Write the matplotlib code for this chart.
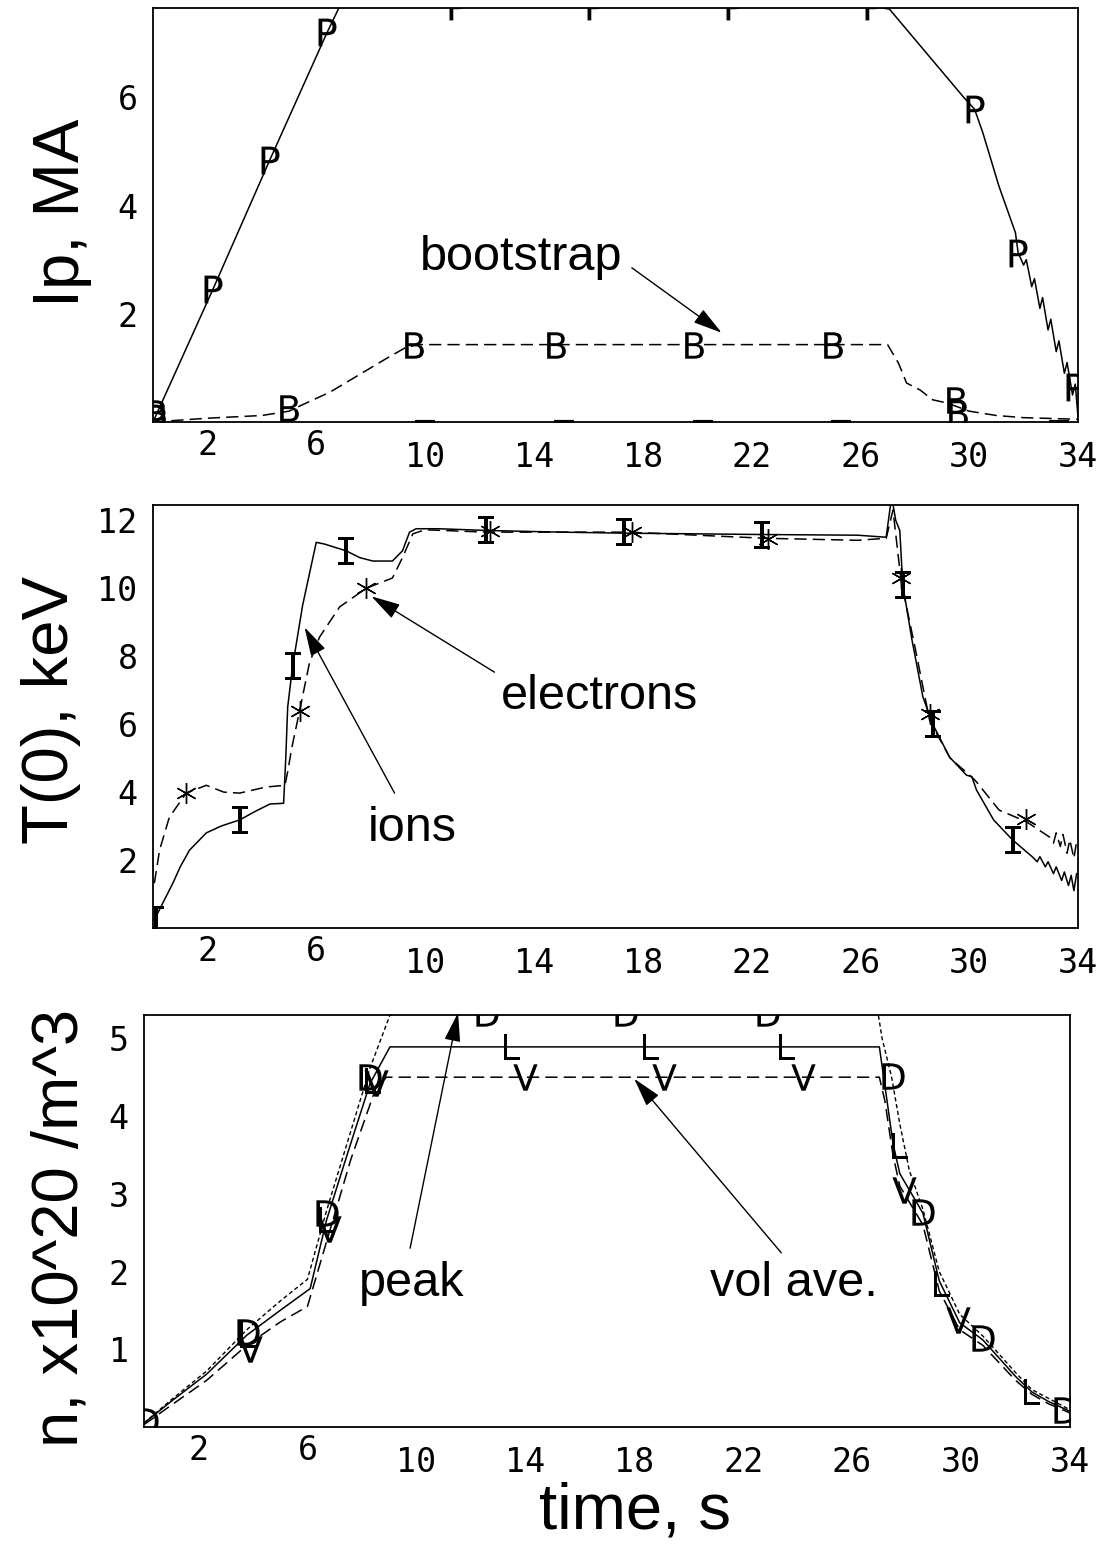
import matplotlib
matplotlib.use('Agg')
import matplotlib.pyplot as plt
import numpy as np

# ---- plasma current panel ----
ip_t = [0, 2.2, 4.3, 6.4, 6.85, 26.6, 27.07, 29.8, 30.2, 30.5, 31.1, 31.7, 31.8,
        32.0, 32.1, 32.3, 32.4, 32.6, 32.7, 32.9, 33.0, 33.2, 33.3, 33.5, 33.6, 33.8, 33.9, 34.0]
ip_v = [0, 2.45, 4.85, 7.2, 7.67, 7.67, 7.63, 6.0, 5.78, 5.35, 4.35, 3.5, 3.13,
        2.9, 3.0, 2.5, 2.65, 2.1, 2.3, 1.7, 1.9, 1.3, 1.5, 0.9, 1.1, 0.5, 0.7, 0.1]
ip_mark_t = [0.1, 2.2, 4.3, 6.4, 11.2, 16.3, 21.4, 26.5, 30.2, 31.8, 33.9]
ip_mark_v = [0.08, 2.45, 4.85, 7.2, 7.69, 7.69, 7.69, 7.69, 5.78, 3.13, 0.65]

bs_t = [0, 2.0, 4.0, 5.0, 5.5, 6.5, 7.5, 8.5, 9.3, 9.8, 27.0, 27.4, 27.7, 28.2,
        28.66, 29.2, 30.0, 31.0, 32.0, 34.0]
bs_v = [0, 0.07, 0.12, 0.2, 0.32, 0.55, 0.85, 1.15, 1.38, 1.43, 1.43, 1.09, 0.72, 0.59,
        0.41, 0.35, 0.2, 0.12, 0.08, 0.05]
bs_mark_t = [0.1, 5.0, 9.6, 14.8, 19.9, 25.0, 29.5, 29.6]
bs_mark_v = [0.17, 0.26, 1.42, 1.42, 1.42, 1.42, 0.41, 0.17]

aux_t = [10.0, 15.1, 20.2, 25.3, 33.3]
aux_v = [0.0, 0.0, 0.0, 0.0, 0.0]

# ---- central temperature panel ----
ti_t = [0.05, 0.4, 0.73, 1.0, 1.34, 1.96, 2.5, 3.18, 3.8, 4.3, 4.8, 4.88, 4.95, 5.13,
        5.5, 6.0, 6.3, 7.1, 7.6, 8.08, 8.8, 9.17, 9.43, 9.67, 10.5, 12.25, 15.0, 17.3,
        20.0, 22.4, 25.9, 26.95, 27.15, 27.3, 27.45, 27.56, 27.9, 28.3, 28.66, 29.28,
        29.9, 30.1, 30.27, 30.9, 31.6, 32.33, 32.5, 32.6, 32.8, 32.9, 33.1, 33.2, 33.4,
        33.5, 33.65, 33.75, 33.85, 33.95]
ti_v = [0.24, 0.8, 1.32, 1.8, 2.29, 2.8, 3.0, 3.18, 3.45, 3.65, 3.67, 5.0, 6.5, 7.7,
        9.5, 11.35, 11.3, 11.1, 10.9, 10.8, 10.8, 11.1, 11.65, 11.75, 11.75, 11.7, 11.65,
        11.62, 11.6, 11.58, 11.56, 11.5, 12.7, 12.0, 11.7, 10.1, 8.47, 6.8, 6.0, 5.03,
        4.5, 4.45, 4.06, 3.18, 2.59, 2.09, 1.95, 2.1, 1.8, 1.95, 1.6, 1.8, 1.4,
        1.65, 1.25, 1.55, 1.1, 1.6]
ti_mark_t = [0.1, 3.18, 5.13, 7.1, 12.25, 17.3, 22.4, 27.56, 28.66, 31.6]
ti_mark_v = [0.24, 3.18, 7.7, 11.1, 11.7, 11.66, 11.56, 10.1, 6.0, 2.59]

te_t = [0.05, 0.24, 0.6, 1.22, 1.96, 2.6, 3.18, 4.16, 4.85, 4.95, 5.1, 5.39, 5.75, 6.12,
        6.86, 7.84, 8.8, 9.17, 9.55, 10.0, 12.25, 17.5, 22.5, 25.9, 26.95, 27.2, 27.5,
        28.0, 28.55, 29.3, 30.1, 30.27, 31.1, 32.1, 32.95, 33.1, 33.2, 33.35, 33.45,
        33.6, 33.7, 33.85, 33.95]
te_v = [1.32, 2.29, 3.26, 3.97, 4.2, 4.0, 3.97, 4.15, 4.2, 4.6, 5.3, 6.4, 7.8, 8.56,
        9.45, 10.0, 10.3, 10.9, 11.6, 11.72, 11.65, 11.65, 11.47, 11.41, 11.47, 12.3, 10.2,
        8.3, 6.1, 5.0, 4.44, 4.3, 3.47, 3.13, 2.68, 2.5, 2.8, 2.4, 2.75,
        2.2, 2.6, 2.05, 2.55]
te_mark_t = [1.22, 5.39, 7.84, 12.4, 17.6, 22.6, 27.5, 28.55, 32.1]
te_mark_v = [3.97, 6.4, 10.0, 11.68, 11.65, 11.45, 10.3, 6.3, 3.2]

# ---- density panel ----
npk_t = [0, 1.0, 2.3, 3.77, 5.0, 6.0, 6.7, 7.5, 8.3, 9.03, 9.5, 26.95, 27.1, 27.45,
         27.75, 28.1, 28.6, 29.2, 29.95, 30.8, 32.0, 32.6, 33.2, 34.0]
npk_v = [0.05, 0.35, 0.72, 1.25, 1.62, 1.9, 2.78, 3.7, 4.62, 5.3, 5.33, 5.33, 5.0, 4.5,
         3.9, 3.3, 2.8, 2.0, 1.45, 1.17, 0.7, 0.48, 0.37, 0.22]
npk_mark_t = [0.1, 3.8, 6.7, 8.3, 12.6, 17.7, 22.9, 27.5, 28.6, 30.8, 33.8]
npk_mark_v = [0.08, 1.22, 2.75, 4.5, 5.33, 5.33, 5.33, 4.52, 2.76, 1.14, 0.22]

nl_t = [0, 1.0, 2.3, 3.77, 5.0, 6.1, 6.7, 7.5, 8.3, 9.03, 27.0, 27.2, 27.5, 27.75, 28.6,
        29.2, 29.95, 30.8, 32.0, 32.6, 33.2, 34.0]
nl_v = [0.05, 0.33, 0.68, 1.18, 1.5, 1.78, 2.66, 3.55, 4.42, 4.89, 4.89, 4.4, 3.65, 3.26,
        2.75, 1.88, 1.34, 1.12, 0.65, 0.45, 0.33, 0.2]
nl_mark_t = [3.8, 6.7, 8.4, 13.5, 18.6, 23.6, 27.75, 29.3, 32.6]
nl_mark_v = [1.18, 2.66, 4.45, 4.89, 4.89, 4.89, 3.62, 1.84, 0.45]

nv_t = [0, 1.0, 2.3, 3.77, 5.0, 6.0, 6.8, 7.6, 8.5, 8.9, 27.0, 27.2, 27.5, 27.75, 28.6,
        29.2, 29.95, 30.8, 32.0, 32.6, 33.2, 34.0]
nv_v = [0.03, 0.28, 0.6, 1.05, 1.35, 1.55, 2.5, 3.45, 4.35, 4.5, 4.5, 4.2, 3.5, 3.1, 2.6,
        1.75, 1.25, 1.05, 0.6, 0.42, 0.3, 0.18]
nv_mark_t = [3.9, 6.8, 8.5, 14.0, 19.1, 24.2, 27.9, 29.9]
nv_mark_v = [1.0, 2.55, 4.42, 4.5, 4.5, 4.5, 3.05, 1.38]

xticks = [2, 6, 10, 14, 18, 22, 26, 30, 34]

tick_font = dict(family='DejaVu Sans Mono', size=24)
label_font = dict(family='Liberation Sans', size=47)
note_font = dict(family='Liberation Sans', size=35)
arrow = dict(arrowstyle='-|>,head_length=0.9,head_width=0.25', color='k', lw=1,
             shrinkA=0, shrinkB=0, mutation_scale=20)
DASH = (8, 4)

fig = plt.figure(figsize=(11.08, 15.48), dpi=100)
ax1 = fig.add_axes([0.1381, 0.7274, 0.8348, 0.2674])
ax2 = fig.add_axes([0.1381, 0.4005, 0.8348, 0.2733])
ax3 = fig.add_axes([0.1300, 0.0782, 0.8357, 0.2661])


def style(ax, ylim, yticks):
    ax.set_xlim(0, 34)
    ax.set_ylim(0, ylim)
    ax.set_xticks(xticks)
    ax.set_xticklabels([str(v) for v in xticks], fontdict=tick_font)
    ax.set_yticks(yticks)
    ax.set_yticklabels([str(v) for v in yticks], fontdict=tick_font)
    ax.tick_params(axis='x', length=0, pad=14)
    ax.tick_params(axis='y', length=0, pad=11)
    for s in ax.spines.values():
        s.set_linewidth(1.3)


def marks(ax, t, v, m, ms):
    ax.plot(t, v, ls='none', marker=m, ms=ms, mfc='k', mec='k', mew=0)


def pointer(ax, tip, tail):
    a = ax.annotate('', xy=tip, xytext=tail, arrowprops=arrow)
    a.set_annotation_clip(False)


# Ip
ax1.plot(ip_t, ip_v, 'k-', lw=1.1)
ax1.plot(bs_t, bs_v, 'k--', lw=1.1, dashes=DASH)
marks(ax1, ip_mark_t, ip_mark_v, r'$\mathsf{P}$', 20)
marks(ax1, bs_mark_t, bs_mark_v, r'$\mathsf{B}$', 19)
ax1.plot(aux_t, aux_v, ls='none', marker='_', ms=14, mew=3, color='k')
style(ax1, 7.65, [2, 4, 6])
ax1.set_ylabel('Ip, MA', va='center', **label_font)
ax1.yaxis.set_label_coords(-0.098, 0.505)
ax1.text(13.55, 3.04, 'bootstrap', ha='center', va='center', **note_font)
pointer(ax1, (20.9, 1.65), (17.6, 2.85))

# T(0)
ax2.plot(ti_t, ti_v, 'k-', lw=1.1)
ax2.plot(te_t, te_v, 'k--', lw=1.1, dashes=DASH)
marks(ax2, ti_mark_t, ti_mark_v, r'$\mathtt{I}$', 20)
ax2.plot(te_mark_t, te_mark_v, ls='none', marker=(6, 2, 0), ms=15, mew=1, color='k')
style(ax2, 12.45, [2, 4, 6, 8, 10, 12])
ax2.set_ylabel('T(0), keV', va='center', **label_font)
ax2.yaxis.set_label_coords(-0.110, 0.515)
pointer(ax2, (8.03, 9.76), (12.55, 7.53))
ax2.text(16.4, 6.8, 'electrons', ha='center', va='center', **note_font)
pointer(ax2, (5.57, 8.85), (8.88, 3.97))
ax2.text(9.54, 2.94, 'ions', ha='center', va='center', **note_font)

# density
ax3.plot(npk_t, npk_v, 'k--', lw=1.0, dashes=(3, 2))
ax3.plot(nl_t, nl_v, 'k-', lw=1.1)
ax3.plot(nv_t, nv_v, 'k--', lw=1.1, dashes=DASH)
marks(ax3, npk_mark_t, npk_mark_v, r'$\mathsf{D}$', 19)
marks(ax3, nl_mark_t, nl_mark_v, r'$\mathsf{L}$', 19)
marks(ax3, nv_mark_t, nv_mark_v, r'$\mathsf{V}$', 19)
style(ax3, 5.3, [1, 2, 3, 4, 5])
ax3.set_ylabel('n, x10^20 /m^3', va='center', **label_font)
ax3.yaxis.set_label_coords(-0.090, 0.483)
ax3.set_xlabel('time, s', va='center', **label_font)
ax3.xaxis.set_label_coords(0.53, -0.205)
pointer(ax3, (11.53, 5.33), (9.77, 2.3))
ax3.text(9.84, 1.85, 'peak', ha='center', va='center', **note_font)
pointer(ax3, (18.0, 4.48), (23.4, 2.24))
ax3.text(23.86, 1.85, 'vol ave.', ha='center', va='center', **note_font)

# the first two time labels sit a little higher in the original
fig.canvas.draw()
for ax in (ax1, ax2, ax3):
    for lab in ax.get_xticklabels():
        if lab.get_text() in ('2', '6'):
            lab.set_y(0.03)

fig.savefig('out.png', dpi=100)
